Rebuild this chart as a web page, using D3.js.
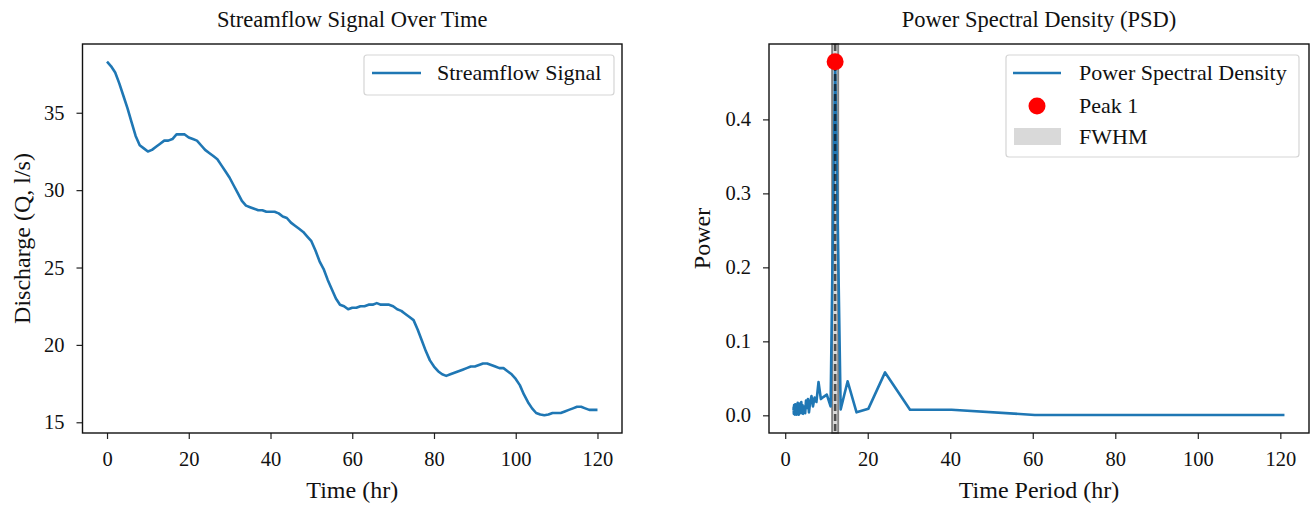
<!DOCTYPE html>
<html>
<head>
<meta charset="utf-8">
<script src="https://cdn.jsdelivr.net/npm/d3@7"></script>
<style>
body { margin: 0; background: #fff; }
svg text { font-family: "Liberation Serif", "Times New Roman", serif; fill: #111; }
</style>
</head>
<body>
<div id="chart"></div>
<script>
// streamflow signal (hourly)
time_hr = [0,1,2,3,4,5,6,7,8,9,10,11,12,13,14,15,16,17,18,19,20,21,22,23,24,25,26,27,28,29,
	30,31,32,33,34,35,36,37,38,39,40,41,42,43,44,45,46,47,48,49,50,51,52,53,54,55,56,57,58,59,
	60,61,62,63,64,65,66,67,68,69,70,71,72,73,74,75,76,77,78,79,80,81,82,83,84,85,86,87,88,89,
	90,91,92,93,94,95,96,97,98,99,100,101,102,103,104,105,106,107,108,109,110,111,112,113,114,
	115,116,117,118,119,120];
discharge = [38.3,38.0,37.6,36.9,36.1,35.3,34.4,33.5,32.9,32.7,32.5,32.6,32.8,33.0,33.2,33.2,33.3,33.6,33.6,33.6,
	33.4,33.3,33.2,32.9,32.6,32.4,32.2,32.0,31.6,31.2,30.8,30.3,29.8,29.3,29.0,28.9,28.8,28.7,28.7,28.6,
	28.6,28.6,28.5,28.3,28.2,27.9,27.7,27.5,27.3,27.0,26.7,26.1,25.4,24.9,24.2,23.6,23.0,22.6,22.5,22.3,
	22.4,22.4,22.5,22.5,22.6,22.6,22.7,22.6,22.6,22.6,22.5,22.3,22.2,22.0,21.8,21.6,21.0,20.3,19.6,19.0,
	18.6,18.3,18.1,18.0,18.1,18.2,18.3,18.4,18.5,18.6,18.6,18.7,18.8,18.8,18.7,18.6,18.5,18.5,18.3,18.1,
	17.8,17.4,16.8,16.3,15.9,15.6,15.5,15.45,15.5,15.6,15.6,15.6,15.7,15.8,15.9,16.0,16.0,15.9,15.8,15.8,
	15.8];

// power spectral density vs period
period_hr = [121.00,60.50,40.33,30.25,24.20,20.17,17.29,15.13,13.44,12.10,11.00,10.08,9.31,8.64,8.07,
	7.56,7.12,6.72,6.37,6.05,5.76,5.50,5.26,5.04,4.84,4.65,4.48,4.32,4.17,4.03,3.90,3.78,3.67,3.56,3.46,
	3.36,3.27,3.18,3.10,3.03,2.95,2.88,2.81,2.75,2.69,2.63,2.57,2.52,2.47,2.42,2.37,2.33,2.28,2.24,2.20,
	2.16,2.12,2.09,2.05,2.02];
power = [0.0005,0.0005,0.0075,0.0075,0.058,0.009,0.004,0.046,0.008,0.478,0.012,0.028,0.025,0.022,0.045,
	0.018,0.024,0.012,0.026,0.018,0.004,0.022,0.010,0.020,0.003,0.012,0.006,0.002,0.014,0.005,0.018,0.003,0.010,0.016,0.004,
	0.012,0.001,0.009,0.003,0.017,0.002,0.008,0.011,0.001,0.006,0.013,0.002,0.007,0.015,0.004,0.009,0.001,0.012,0.005,0.003,
	0.014,0.006,0.002,0.011,0.007];
peak_period = [12.10];
peak_power = [0.478];
fwhm_range = [11.35, 12.85];

left_x_ticks = [0, 20, 40, 60, 80, 100, 120];
left_y_ticks = [15, 20, 25, 30, 35];
right_x_ticks = [0, 20, 40, 60, 80, 100, 120];
right_y_ticks = [0.0, 0.1, 0.2, 0.3, 0.4];

line_color = '#1f77b4';

svg = d3.select('#chart')
	.append('svg')
	.attr('width', 1312)
	.attr('height', 505);

// pad an extent by 5% like matplotlib
function padded(vals) {
	var ext = d3.extent(vals);
	var m = (ext[1] - ext[0]) * 0.05;
	return [ext[0] - m, ext[1] + m];
}

function make_panel(box, x_dom, y_dom, x_ticks, y_ticks, y_fmt, title, x_label, y_label, y_label_x) {
	var x = d3.scaleLinear().domain(x_dom).range([box.left, box.right]);
	var y = d3.scaleLinear().domain(y_dom).range([box.bottom, box.top]);
	var g = svg.append('g');

	g.append('g')
		.attr('transform', 'translate(0,' + box.bottom + ')')
		.call(d3.axisBottom(x).tickValues(x_ticks).tickSize(6).tickPadding(12).tickSizeOuter(0))
		.call(function(a) { a.select('.domain').remove(); })
		.call(function(a) {
			a.selectAll('line').attr('stroke', '#222').attr('stroke-width', 1.2);
			a.selectAll('text').attr('font-size', 20.5).attr('fill', '#111');
		});

	g.append('g')
		.attr('transform', 'translate(' + box.left + ',0)')
		.call(d3.axisLeft(y).tickValues(y_ticks).tickFormat(y_fmt).tickSize(6).tickPadding(12).tickSizeOuter(0))
		.call(function(a) { a.select('.domain').remove(); })
		.call(function(a) {
			a.selectAll('line').attr('stroke', '#222').attr('stroke-width', 1.2);
			a.selectAll('text').attr('font-size', 20.5).attr('fill', '#111');
		});

	svg.append('text')
		.attr('x', (box.left + box.right) / 2)
		.attr('y', 27)
		.attr('text-anchor', 'middle')
		.attr('font-size', 22.5)
		.text(title);

	svg.append('text')
		.attr('x', (box.left + box.right) / 2)
		.attr('y', 498)
		.attr('text-anchor', 'middle')
		.attr('font-size', 24)
		.text(x_label);

	svg.append('text')
		.attr('transform', 'translate(' + y_label_x + ',' + (box.top + box.bottom) / 2 + ') rotate(-90)')
		.attr('text-anchor', 'middle')
		.attr('font-size', 24)
		.text(y_label);

	return {x: x, y: y, g: g, box: box};
}

function draw_frame(p) {
	svg.append('rect')
		.attr('x', p.box.left)
		.attr('y', p.box.top)
		.attr('width', p.box.right - p.box.left)
		.attr('height', p.box.bottom - p.box.top)
		.attr('fill', 'none')
		.attr('stroke', '#111')
		.attr('stroke-width', 1.4);
}

// ---- left panel: streamflow ----
left = make_panel({left: 82.5, right: 622, top: 44, bottom: 433},
	padded(time_hr), padded(discharge), left_x_ticks, left_y_ticks, d3.format('d'),
	'Streamflow Signal Over Time', 'Time (hr)', 'Discharge (Q, l/s)', 30);

flow_line = d3.line()
	.x((d, i) => left.x(time_hr[i]))
	.y((d) => left.y(d));

svg.append('path')
	.datum(discharge)
	.attr('d', flow_line)
	.attr('fill', 'none')
	.attr('stroke', line_color)
	.attr('stroke-width', 2.6)
	.attr('stroke-linejoin', 'round');

draw_frame(left);

// legend
lg = svg.append('g');
lg.append('rect')
	.attr('x', 364).attr('y', 55).attr('width', 250).attr('height', 40)
	.attr('rx', 3).attr('fill', '#fff').attr('fill-opacity', 0.8)
	.attr('stroke', '#d5d5d5').attr('stroke-width', 1.2);
lg.append('line')
	.attr('x1', 372).attr('x2', 421).attr('y1', 73).attr('y2', 73)
	.attr('stroke', line_color).attr('stroke-width', 2.6);
lg.append('text')
	.attr('x', 437).attr('y', 73).attr('dy', '0.33em')
	.attr('font-size', 22)
	.text('Streamflow Signal');

// ---- right panel: PSD ----
right = make_panel({left: 769, right: 1309, top: 44, bottom: 433},
	padded(period_hr), padded([0].concat(power)), right_x_ticks, right_y_ticks, d3.format('.1f'),
	'Power Spectral Density (PSD)', 'Time Period (hr)', 'Power', 710);

// FWHM span
svg.append('rect')
	.attr('x', right.x(fwhm_range[0]))
	.attr('y', right.box.top)
	.attr('width', right.x(fwhm_range[1]) - right.x(fwhm_range[0]))
	.attr('height', right.box.bottom - right.box.top)
	.attr('fill', '#808080')
	.attr('fill-opacity', 0.3)
	.attr('stroke', '#555')
	.attr('stroke-opacity', 0.7)
	.attr('stroke-width', 1.8);

psd_line = d3.line()
	.x((d, i) => right.x(period_hr[i]))
	.y((d) => right.y(d));

svg.append('path')
	.datum(power)
	.attr('d', psd_line)
	.attr('fill', 'none')
	.attr('stroke', line_color)
	.attr('stroke-width', 2.6)
	.attr('stroke-linejoin', 'round');

// dashed marker at peak period
svg.append('line')
	.attr('x1', right.x(peak_period[0])).attr('x2', right.x(peak_period[0]))
	.attr('y1', right.box.top).attr('y2', right.box.bottom)
	.attr('stroke', '#111')
	.attr('stroke-opacity', 0.7)
	.attr('stroke-width', 2.6)
	.attr('stroke-dasharray', '7,3');

svg.selectAll('circle.peak')
	.data(peak_period)
	.enter()
	.append('circle')
	.attr('class', 'peak')
	.attr('cx', (d) => right.x(d))
	.attr('cy', (d, i) => right.y(peak_power[i]))
	.attr('r', 8.5)
	.attr('fill', '#ff0000');

draw_frame(right);

rg = svg.append('g');
rg.append('rect')
	.attr('x', 1006).attr('y', 55).attr('width', 293).attr('height', 102)
	.attr('rx', 3).attr('fill', '#fff').attr('fill-opacity', 0.8)
	.attr('stroke', '#d5d5d5').attr('stroke-width', 1.2);
rg.append('line')
	.attr('x1', 1013).attr('x2', 1061).attr('y1', 73).attr('y2', 73)
	.attr('stroke', line_color).attr('stroke-width', 2.6);
rg.append('circle')
	.attr('cx', 1037).attr('cy', 106).attr('r', 8.5)
	.attr('fill', '#ff0000');
rg.append('rect')
	.attr('x', 1014).attr('y', 128).attr('width', 47).attr('height', 17)
	.attr('fill', '#808080').attr('fill-opacity', 0.3);
rg.selectAll('text')
	.data(['Power Spectral Density', 'Peak 1', 'FWHM'])
	.enter()
	.append('text')
	.attr('x', 1079)
	.attr('y', (d, i) => [73, 106, 137][i])
	.attr('dy', '0.33em')
	.attr('font-size', 22)
	.text((d) => d);
</script>
</body>
</html>
